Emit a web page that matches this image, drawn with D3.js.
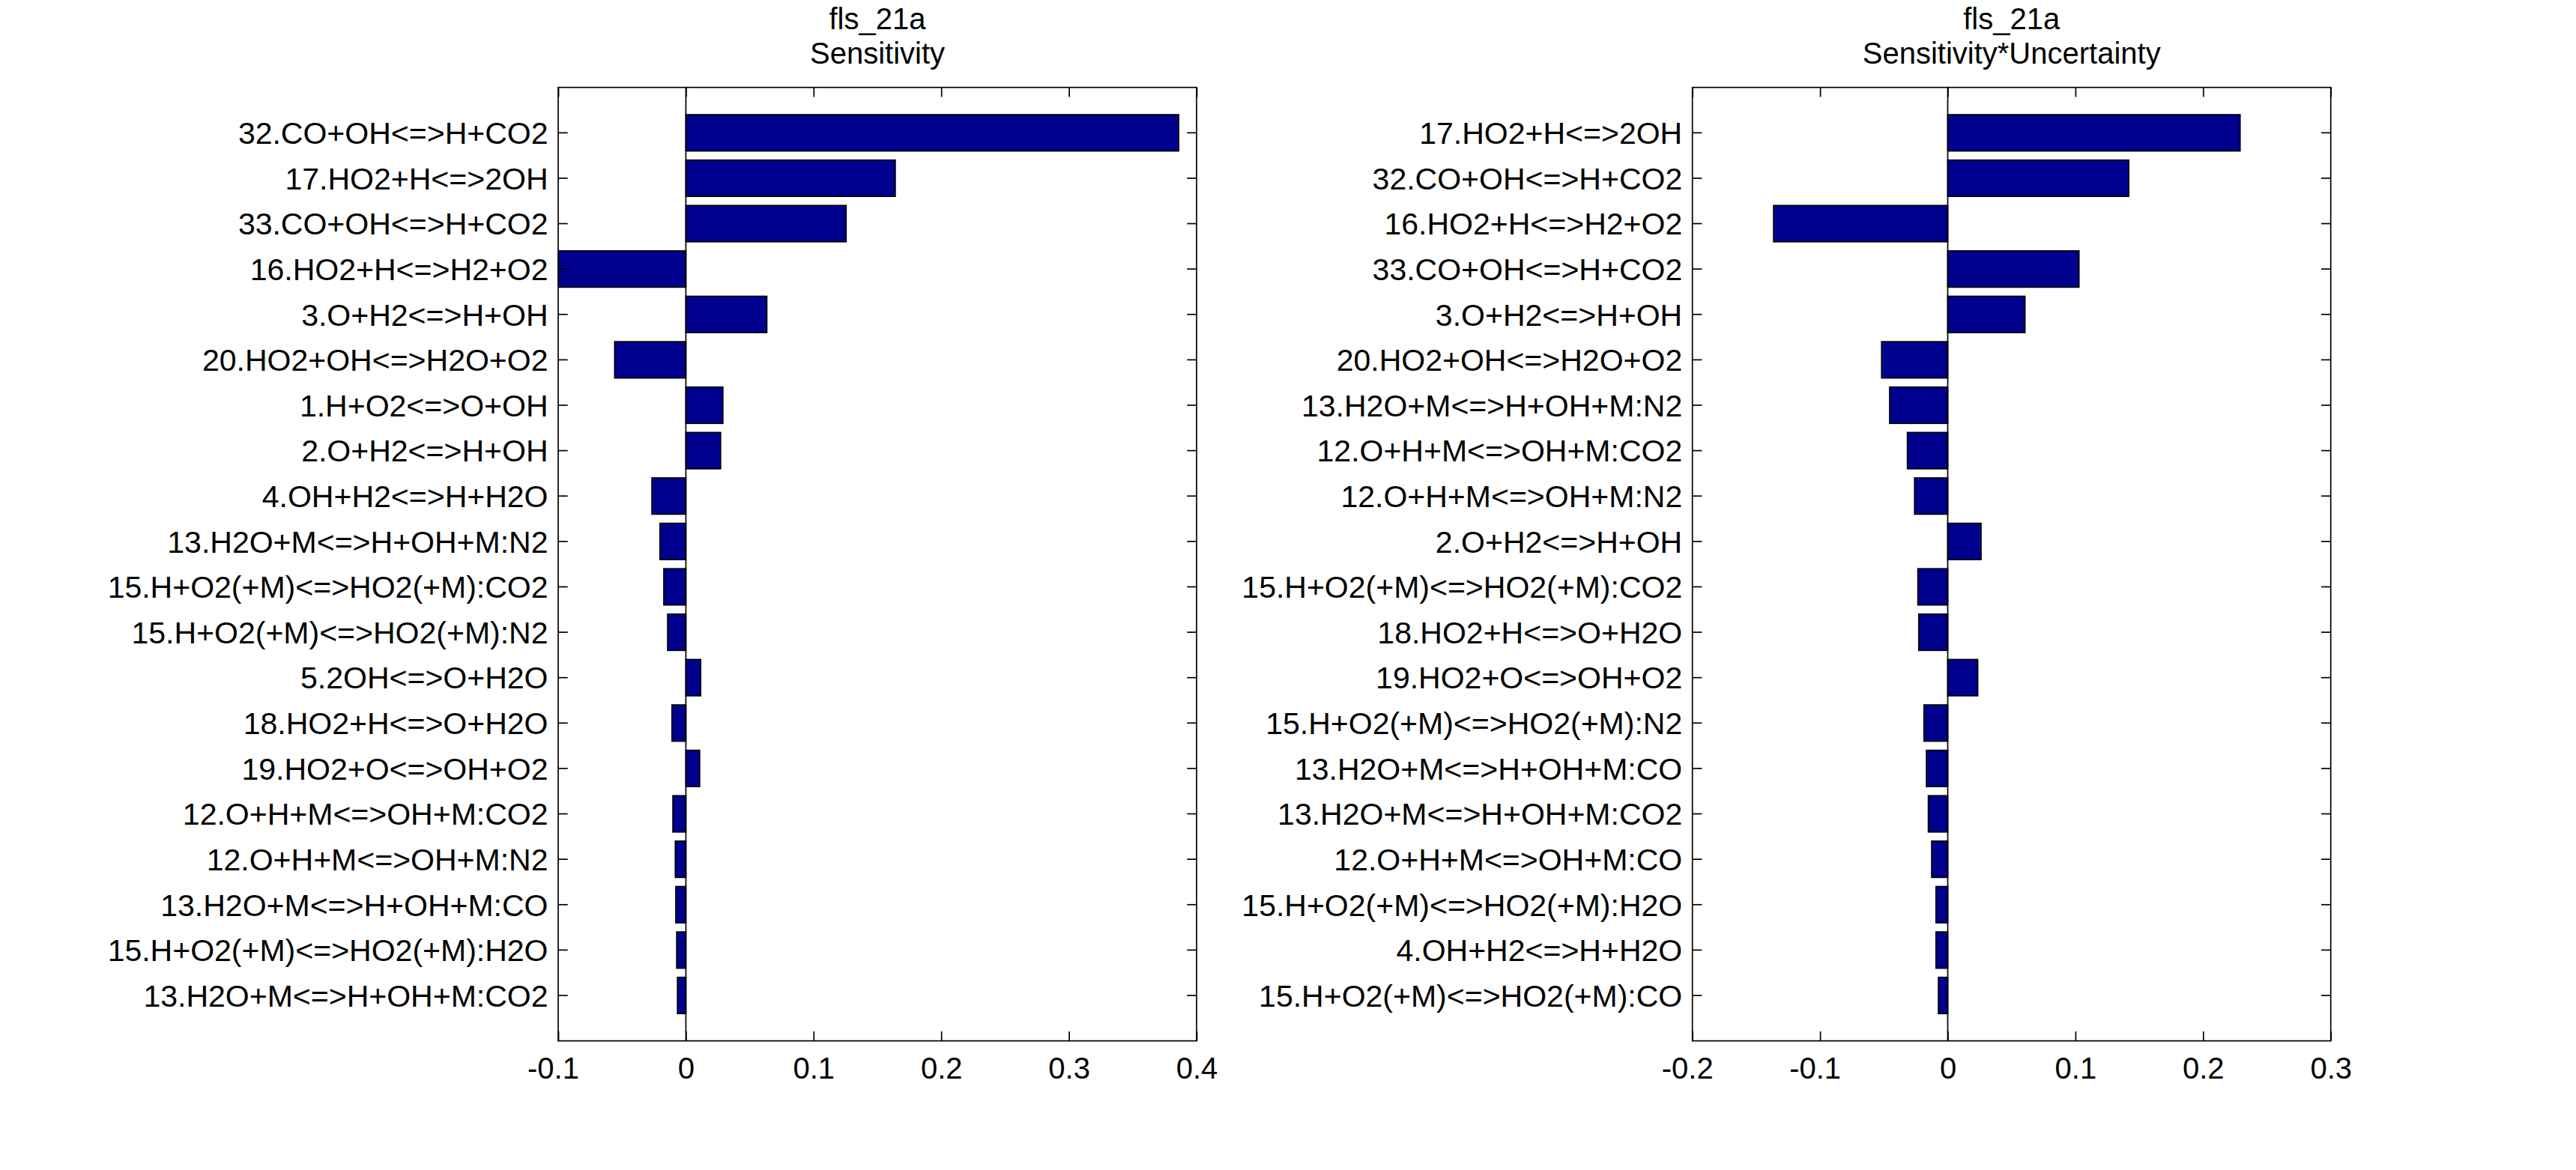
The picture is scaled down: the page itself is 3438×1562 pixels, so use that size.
<!DOCTYPE html>
<html lang="en">
    <head>
        <meta charset="utf-8">
        <title>fls_21a sensitivity</title>
        <script src="https://d3js.org/d3.v7.min.js" charset="utf-8"></script>
        <style>
            body { margin: 0; background: #fff; }
            text { font-family: "Liberation Sans", Arial, Helvetica, sans-serif; }
        </style>
    </head>
    <body>
        <script type="text/javascript">

            // canvas
            var w = 3438;
            var h = 1562;

            // left panel: sensitivity
            var sensLabels = [
                "32.CO+OH<=>H+CO2",
                "17.HO2+H<=>2OH",
                "33.CO+OH<=>H+CO2",
                "16.HO2+H<=>H2+O2",
                "3.O+H2<=>H+OH",
                "20.HO2+OH<=>H2O+O2",
                "1.H+O2<=>O+OH",
                "2.O+H2<=>H+OH",
                "4.OH+H2<=>H+H2O",
                "13.H2O+M<=>H+OH+M:N2",
                "15.H+O2(+M)<=>HO2(+M):CO2",
                "15.H+O2(+M)<=>HO2(+M):N2",
                "5.2OH<=>O+H2O",
                "18.HO2+H<=>O+H2O",
                "19.HO2+O<=>OH+O2",
                "12.O+H+M<=>OH+M:CO2",
                "12.O+H+M<=>OH+M:N2",
                "13.H2O+M<=>H+OH+M:CO",
                "15.H+O2(+M)<=>HO2(+M):H2O",
                "13.H2O+M<=>H+OH+M:CO2"
            ];
            var sensValues = [
                0.386, 0.164, 0.1255, -0.1, 0.0634, -0.0558, 0.029, 0.0272,
                -0.0266, -0.0203, -0.0173, -0.0143, 0.0116, -0.0109, 0.0108,
                -0.0102, -0.0083, -0.0079, -0.0072, -0.0066
            ];
            var sensTicks = [-0.1, 0, 0.1, 0.2, 0.3, 0.4];

            // right panel: sensitivity * uncertainty
            var suLabels = [
                "17.HO2+H<=>2OH",
                "32.CO+OH<=>H+CO2",
                "16.HO2+H<=>H2+O2",
                "33.CO+OH<=>H+CO2",
                "3.O+H2<=>H+OH",
                "20.HO2+OH<=>H2O+O2",
                "13.H2O+M<=>H+OH+M:N2",
                "12.O+H+M<=>OH+M:CO2",
                "12.O+H+M<=>OH+M:N2",
                "2.O+H2<=>H+OH",
                "15.H+O2(+M)<=>HO2(+M):CO2",
                "18.HO2+H<=>O+H2O",
                "19.HO2+O<=>OH+O2",
                "15.H+O2(+M)<=>HO2(+M):N2",
                "13.H2O+M<=>H+OH+M:CO",
                "13.H2O+M<=>H+OH+M:CO2",
                "12.O+H+M<=>OH+M:CO",
                "15.H+O2(+M)<=>HO2(+M):H2O",
                "4.OH+H2<=>H+H2O",
                "15.H+O2(+M)<=>HO2(+M):CO"
            ];
            var suValues = [
                0.229, 0.1418, -0.1364, 0.1028, 0.0605, -0.0518, -0.0455,
                -0.0316, -0.026, 0.0261, -0.0234, -0.0227, 0.0235, -0.0186,
                -0.0167, -0.0152, -0.0126, -0.0092, -0.0092, -0.0073
            ];
            var suTicks = [-0.2, -0.1, 0, 0.1, 0.2, 0.3];

            var svg = d3.select("body")
                .append("svg")
                .attr("width", w)
                .attr("height", h);

            svg.append("rect")
                .attr("width", w)
                .attr("height", h)
                .attr("fill", "#fff");

            // note: "top" is taken by window.top, so plot edges get their own names
            var plotTop = 116.7;
            var plotBottom = 1389.6;
            var tick = 12.7;
            var lw = 1.7;
            var fs = 40;
            var fsLabel = 41;

            // one barh panel
            var panel = function (labels, values, ticks, left, right, title2) {

                var x = d3.scaleLinear()
                    .domain([ticks[0], ticks[ticks.length - 1]])
                    .range([left, right]);

                var y = d3.scaleBand()
                    .domain(d3.range(labels.length))
                    .range([plotTop, plotBottom])
                    .paddingInner(0.2)
                    .paddingOuter(0.6);

                var g = svg.append("g");

                // bars
                g.selectAll("rect.bar")
                    .data(values)
                    .enter()
                    .append("rect")
                    .attr("class", "bar")
                    .attr("x", function(d) { return x(Math.min(0, d)); })
                    .attr("y", function(d, i) { return y(i); })
                    .attr("width", function(d) { return Math.abs(x(d) - x(0)); })
                    .attr("height", y.bandwidth())
                    .attr("fill", "rgb(0,0,143)")
                    .attr("stroke", "#000")
                    .attr("stroke-width", lw);

                // baseline at zero
                g.append("line")
                    .attr("x1", x(0))
                    .attr("x2", x(0))
                    .attr("y1", plotTop)
                    .attr("y2", plotBottom)
                    .attr("stroke", "#000")
                    .attr("stroke-width", lw);

                // axes, ticks pointing inward
                var fmt = function(d) { return String(d); };

                var xb = g.append("g")
                    .attr("transform", "translate(0," + plotBottom + ")")
                    .call(d3.axisBottom(x).tickValues(ticks).tickFormat(fmt)
                        .tickSizeInner(-tick).tickSizeOuter(0).tickPadding(21.6));

                var xt = g.append("g")
                    .attr("transform", "translate(0," + plotTop + ")")
                    .call(d3.axisTop(x).tickValues(ticks).tickFormat("")
                        .tickSizeInner(-tick).tickSizeOuter(0));

                var yl = g.append("g")
                    .attr("transform", "translate(" + left + ",0)")
                    .call(d3.axisLeft(y).tickFormat(function(i) { return labels[i]; })
                        .tickSizeInner(-tick).tickSizeOuter(0).tickPadding(13.5));

                var yr = g.append("g")
                    .attr("transform", "translate(" + right + ",0)")
                    .call(d3.axisRight(y).tickFormat("")
                        .tickSizeInner(-tick).tickSizeOuter(0));

                [xb, xt, yl, yr].forEach(function (a) {
                    a.attr("font-size", null).attr("font-family", null);
                    a.select(".domain").remove();
                    a.selectAll("line")
                        .attr("stroke", "#000")
                        .attr("stroke-width", lw);
                    a.selectAll("text")
                        .attr("fill", "#000")
                        .style("font-size", fs + "px");
                });

                yl.selectAll("text")
                    .attr("dy", "0.36em")
                    .style("font-size", fsLabel + "px");

                // MATLAB centres the digits, leaving the minus sign hanging left
                xb.selectAll("text")
                    .attr("dx", function(d) { return d < 0 ? -7 : 0; });

                // box
                g.append("rect")
                    .attr("x", left)
                    .attr("y", plotTop)
                    .attr("width", right - left)
                    .attr("height", plotBottom - plotTop)
                    .attr("fill", "none")
                    .attr("stroke", "#000")
                    .attr("stroke-width", lw);

                // title
                var cx = (left + right) / 2;
                g.append("text")
                    .attr("x", cx)
                    .attr("y", 39)
                    .attr("text-anchor", "middle")
                    .style("font-size", fs + "px")
                    .text("fls_21a");
                g.append("text")
                    .attr("x", cx)
                    .attr("y", 85)
                    .attr("text-anchor", "middle")
                    .style("font-size", fs + "px")
                    .text(title2);
            };

            panel(sensLabels, sensValues, sensTicks, 745, 1597, "Sensitivity");
            panel(suLabels, suValues, suTicks, 2258.7, 3110.7, "Sensitivity*Uncertainty");

        </script>
    </body>
</html>
